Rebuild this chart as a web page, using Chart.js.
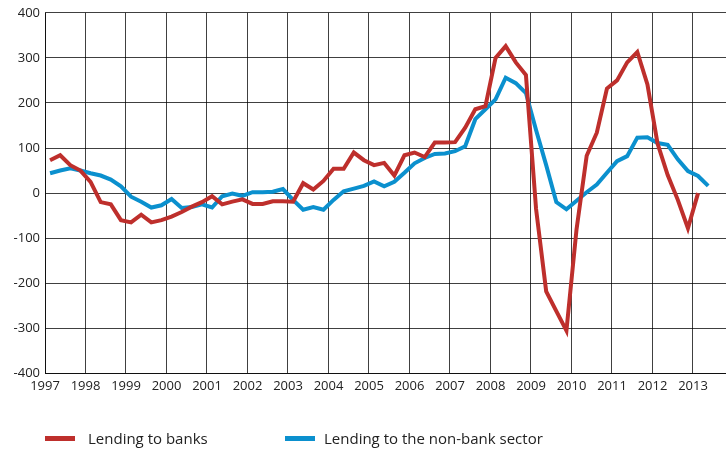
<!DOCTYPE html>
<html>
<head>
<meta charset="utf-8">
<script src="https://cdn.jsdelivr.net/npm/chart.js@4"></script>
<style>
  html, body { margin: 0; padding: 0; background: #fff; }
  #wrap { position: relative; width: 726px; height: 452px; }
  #legend { position: absolute; left: 45px; top: 427px; font-family: "Open Sans", sans-serif; font-size: 15px; color: #222; white-space: nowrap; }
  .item { position: absolute; top: 0; }
  .swatch { position: absolute; top: 9px; width: 30px; height: 5px; }
  .txt { position: absolute; left: 43px; top: 0; line-height: 22px; }
</style>
</head>
<body>
<div id="wrap">
  <canvas id="chart" width="726" height="452"></canvas>
  <div id="legend">
    <div class="item" style="left:0"><span class="swatch" style="background:#BE2F2C"></span><span class="txt">Lending to banks</span></div>
    <div class="item" style="left:240px"><span class="swatch" style="background:#0B90CE"></span><span class="txt" style="left:39px">Lending to the non-bank sector</span></div>
  </div>
</div>
<script>
// Quarterly data, starting 1997 Q1
const quarters = [];
for (let y = 1997; y <= 2013; y++) {
    for (let q = 1; q <= 4; q++) quarters.push(y + 'Q' + q);
}

const lendingBanks = [
    73, 84, 62, 50, 25, -20, -25, -60, -65, -48,
    -65, -60, -52, -42, -30, -20, -7, -25, -19, -14,
    -24, -24, -18, -18, -19, 22, 8, 27, 54, 54,
    90, 73, 62, 67, 39, 84, 90, 80, 112, 112,
    113, 145, 186, 193, 300, 326, 290, 262, -35, -218,
    -262, -305, -80, 83, 134, 232, 250, 290, 313, 241,
    110, 40, -15, -78, 0
];

const lendingNonBank = [
    44, 50, 55, 50, 44, 39, 30, 15, -8, -19,
    -32, -27, -13, -33, -31, -25, -32, -7, -1, -6,
    2, 2, 3, 9, -15, -37, -31, -37, -15, 4,
    10, 16, 26, 15, 25, 45, 66, 78, 87, 88,
    93, 104, 164, 186, 208, 256, 244, 222, 140, 62,
    -20, -36, -17, 2, 19, 45, 71, 82, 123, 124,
    111, 107, 75, 49, 38, 16
];

const yearTicks = [1997, 1998, 1999, 2000, 2001, 2002, 2003, 2004, 2005, 2006, 2007, 2008, 2009, 2010, 2011, 2012, 2013];

// quarter label -> position in the middle of the quarter
function quarterPos(label) {
    const y = parseInt(label.slice(0, 4));
    const q = parseInt(label.slice(5));
    return y + (q - 0.5) / 4;
}

function toPoints(values) {
    return values.map((v, i) => ({ x: quarterPos(quarters[i]), y: v }));
}

const gridColor = 'rgba(0, 0, 0, 0.75)';

new Chart(document.getElementById('chart'), {
    type: 'line',
    data: {
        datasets: [{
            label: 'Lending to banks',
            data: toPoints(lendingBanks),
            borderColor: '#BE2F2C',
            borderWidth: 4,
            pointRadius: 0,
            tension: 0
        }, {
            label: 'Lending to the non-bank sector',
            data: toPoints(lendingNonBank),
            borderColor: '#0B90CE',
            borderWidth: 4,
            pointRadius: 0,
            tension: 0
        }]
    },
    options: {
        responsive: false,
        animation: false,
        layout: { padding: { top: 12, right: 0, bottom: 53, left: 0 } },
        plugins: {
            legend: { display: false },
            tooltip: { enabled: false }
        },
        scales: {
            x: {
                type: 'linear',
                min: yearTicks[0],
                max: 2013.815,
                afterBuildTicks: function(scale) {
                    scale.ticks = yearTicks.map(v => ({ value: v }));
                },
                grid: { color: gridColor, lineWidth: 1, drawTicks: false },
                border: { color: gridColor, width: 1 },
                ticks: {
                    color: '#222',
                    font: { family: 'Open Sans', size: 13 },
                    padding: 5,
                    maxRotation: 0,
                    autoSkip: false,
                    callback: v => String(v)
                }
            },
            y: {
                min: -400,
                max: 400,
                afterFit: function(scale) { scale.width = 45; },
                grid: { color: gridColor, lineWidth: 1, drawTicks: false },
                border: { color: gridColor, width: 1 },
                ticks: {
                    stepSize: 100,
                    color: '#222',
                    font: { family: 'Open Sans', size: 13 },
                    padding: 5
                }
            }
        }
    }
});
</script>
</body>
</html>
